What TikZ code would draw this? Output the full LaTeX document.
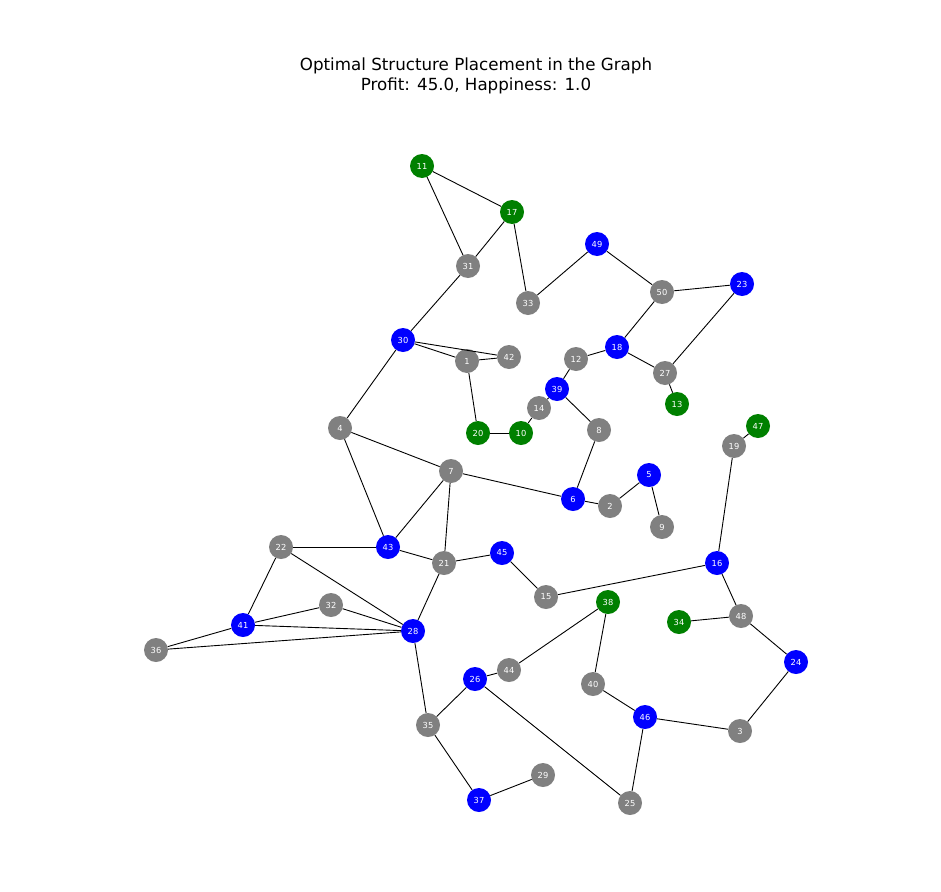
\documentclass[tikz,border=0pt]{standalone}
\usepackage{fontspec}
\setmainfont{DejaVu Sans}
\usepackage{tikz}
\usetikzlibrary{calc}
\definecolor{nodegray}{RGB}{128,128,128}
\definecolor{nodegreen}{RGB}{0,128,0}
\definecolor{nodeblue}{RGB}{0,0,255}
\tikzset{
  spot/.style={circle,minimum size=24pt,inner sep=0pt,text=white,font=\fontsize{8.3}{9}\selectfont},
  gspot/.style={spot,fill=nodegray},
  fspot/.style={spot,fill=nodegreen},
  bspot/.style={spot,fill=nodeblue},
  link/.style={draw=black,line width=0.9pt},
}
\begin{document}
\begin{tikzpicture}[x=1pt,y=-1pt]
        \useasboundingbox (0,0) rectangle (941,891);
            % title
            \node[font=\fontsize{16.7}{20}\selectfont,align=center] (title) at (476,76) {Optimal Structure Placement in the Graph\\Profit: 45.0, Happiness: 1.0};
            % vertices
            \node[fspot] (v11) at (422,166) {11};
            \node[fspot] (v17) at (512,212) {17};
            \node[gspot] (v31) at (468,266) {31};
            \node[gspot] (v33) at (528,303) {33};
            \node[bspot] (v49) at (597,244) {49};
            \node[gspot] (v50) at (662,292) {50};
            \node[bspot] (v23) at (742,284) {23};
            \node[bspot] (v30) at (403,340) {30};
            \node[gspot] (v1) at (467,361) {1};
            \node[gspot] (v42) at (509,357) {42};
            \node[gspot] (v12) at (576,359) {12};
            \node[bspot] (v18) at (617,347) {18};
            \node[gspot] (v27) at (665,373) {27};
            \node[fspot] (v13) at (677,404) {13};
            \node[bspot] (v39) at (557,389) {39};
            \node[gspot] (v14) at (539,408) {14};
            \node[fspot] (v20) at (478,433) {20};
            \node[fspot] (v10) at (521,433) {10};
            \node[gspot] (v8) at (599,430) {8};
            \node[gspot] (v4) at (340,428) {4};
            \node[fspot] (v47) at (758,426) {47};
            \node[gspot] (v19) at (734,446) {19};
            \node[gspot] (v7) at (451,471) {7};
            \node[bspot] (v5) at (649,475) {5};
            \node[bspot] (v6) at (573,499) {6};
            \node[gspot] (v2) at (610,506) {2};
            \node[gspot] (v9) at (662,527) {9};
            \node[gspot] (v22) at (281,547) {22};
            \node[bspot] (v43) at (388,547) {43};
            \node[gspot] (v21) at (444,563) {21};
            \node[bspot] (v45) at (502,553) {45};
            \node[bspot] (v16) at (717,563) {16};
            \node[gspot] (v15) at (546,597) {15};
            \node[fspot] (v38) at (608,602) {38};
            \node[fspot] (v34) at (679,622) {34};
            \node[gspot] (v48) at (741,616) {48};
            \node[gspot] (v32) at (331,605) {32};
            \node[bspot] (v41) at (243,625) {41};
            \node[bspot] (v28) at (413,631) {28};
            \node[gspot] (v36) at (156,650) {36};
            \node[bspot] (v24) at (796,662) {24};
            \node[gspot] (v44) at (509,670) {44};
            \node[bspot] (v26) at (475,679) {26};
            \node[gspot] (v40) at (593,684) {40};
            \node[bspot] (v46) at (645,717) {46};
            \node[gspot] (v3) at (740,731) {3};
            \node[gspot] (v35) at (428,725) {35};
            \node[gspot] (v29) at (543,775) {29};
            \node[bspot] (v37) at (479,800) {37};
            \node[gspot] (v25) at (630,803) {25};
            % edges
            \begin{scope}[on background layer/.try]
            \foreach \a/\b in {11/17,11/31,17/31,17/33,31/30,33/49,49/50,50/23,50/18,18/12,
                18/27,27/23,27/13,30/1,30/42,1/42,1/20,20/10,10/14,14/39,39/12,39/8,8/6,
                30/4,4/7,4/43,7/6,7/43,7/21,6/2,2/5,5/9,47/19,19/16,16/15,16/48,48/34,
                48/24,24/3,3/46,46/40,46/25,40/38,38/44,44/26,26/35,26/25,35/28,35/37,
                37/29,15/45,45/21,21/43,21/28,43/22,22/41,22/28,41/32,32/28,41/28,41/36,36/28}
                \draw[link] (v\a) -- (v\b);
            \end{scope}
    \end{tikzpicture}
\end{document}
